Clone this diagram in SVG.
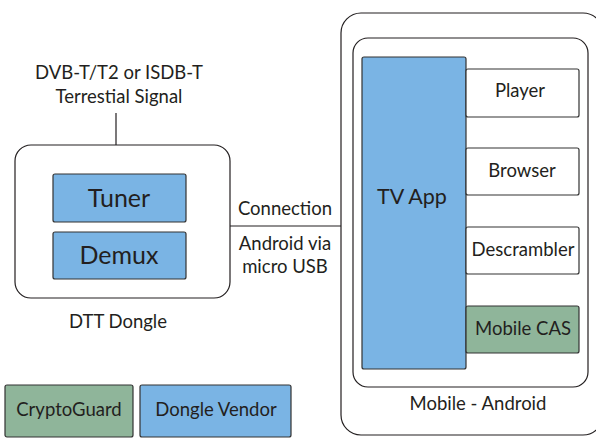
<svg xmlns="http://www.w3.org/2000/svg" width="596" height="438" viewBox="0 0 596 438">
<style>
text{font-family:"Lato","Open Sans",sans-serif;fill:#231f20;text-anchor:middle}
.t{font-size:18.5px}
.b{font-size:25px}
.frame{fill:#fff;stroke:#231f20;stroke-width:1.2}
.blue{fill:#7ab4e4;stroke:#333;stroke-width:1.2}
.green{fill:#8fb59a;stroke:#333;stroke-width:1.2}
.white{fill:#fff;stroke:#333;stroke-width:1.2}
.line{stroke:#231f20;stroke-width:1.2;fill:none}
</style>
<rect width="596" height="438" fill="#fff"/>
<g id="connectors">
<line class="line" x1="116" y1="113" x2="116" y2="145"/>
<line class="line" x1="230" y1="226" x2="341" y2="226"/>
</g>
<g id="signal">
<text class="t" x="119" y="79">DVB-T/T2 or ISDB-T</text>
<text class="t" x="119" y="103">Terrestial Signal</text>
</g>
<g id="dongle">
<rect class="frame" x="15" y="145" width="215" height="153" rx="16"/>
<text class="t" x="118" y="328">DTT Dongle</text>
</g>
<g id="tuner">
<rect class="blue" x="53" y="174" width="133" height="48" rx="2"/>
<text class="b" x="119" y="207">Tuner</text>
</g>
<g id="demux">
<rect class="blue" x="53" y="232" width="133" height="47" rx="2"/>
<text class="b" x="119" y="264">Demux</text>
</g>
<g id="connection-label">
<text class="t" x="285" y="215">Connection</text>
<text class="t" x="285" y="250">Android via</text>
<text class="t" x="285" y="273">micro USB</text>
</g>
<g id="mobile">
<rect class="frame" x="341" y="13" width="262" height="422" rx="20"/>
<text class="t" x="478" y="410">Mobile - Android</text>
</g>
<g id="android">
<rect class="frame" x="353" y="38" width="235" height="349" rx="15"/>
</g>
<g id="tvapp">
<rect class="blue" x="362" y="57" width="104" height="312" rx="2"/>
<text class="t" x="412" y="204" style="font-size:21.5px">TV App</text>
</g>
<g id="player">
<rect class="white" x="466" y="69" width="113" height="48" rx="2"/>
<text class="t" x="520" y="97">Player</text>
</g>
<g id="browser">
<rect class="white" x="466" y="148" width="113" height="47" rx="2"/>
<text class="t" x="522" y="177">Browser</text>
</g>
<g id="descrambler">
<rect class="white" x="466" y="227" width="113" height="47" rx="2"/>
<text class="t" x="523" y="256">Descrambler</text>
</g>
<g id="mobilecas">
<rect class="green" x="466" y="306" width="113" height="47" rx="2"/>
<text class="t" x="523" y="335">Mobile CAS</text>
</g>
<g id="legend-cryptoguard">
<rect class="green" x="5" y="385" width="128" height="52" rx="2"/>
<text class="t" x="69" y="416">CryptoGuard</text>
</g>
<g id="legend-vendor">
<rect class="blue" x="140" y="385" width="151" height="52" rx="2"/>
<text class="t" x="216" y="416">Dongle Vendor</text>
</g>
</svg>
